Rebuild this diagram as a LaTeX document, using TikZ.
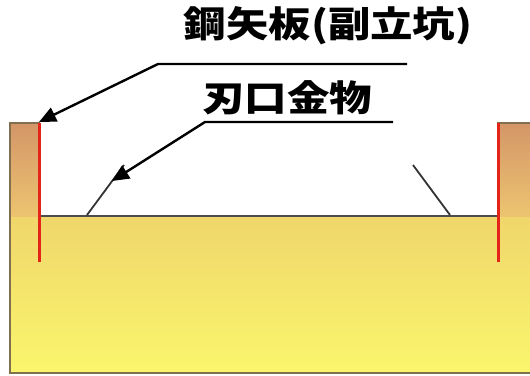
\documentclass[tikz,border=0pt]{standalone}
\usepackage{fontspec}
\newfontfamily\jp{Noto Sans CJK JP}
\usetikzlibrary{arrows.meta}
\definecolor{wallTop}{RGB}{212,150,104}
\definecolor{wallBot}{RGB}{236,196,112}
\definecolor{soilTop}{RGB}{240,214,108}
\definecolor{soilBot}{RGB}{250,246,108}
\definecolor{pileRed}{RGB}{228,36,24}
\definecolor{edgeGray}{RGB}{128,112,80}
\begin{document}
\begin{tikzpicture}[x=1pt,y=-1pt,
  outline/.style={draw=edgeGray, line width=1.2pt},
  groundline/.style={draw=black!70, line width=1.4pt},
  pile/.style={draw=pileRed, line width=3pt},
  blade/.style={draw=black!80, line width=1.8pt},
  leader/.style={draw=black, line width=2.4pt, -{Triangle[length=17pt,width=15pt]}},
  tag/.style={font=\jp\bfseries\fontsize{36}{36}\selectfont, inner sep=0pt}]
\useasboundingbox (0,0) rectangle (530,375);

% soil body and the two wall sections above ground
\shade[top color=soilTop, bottom color=soilBot] (10,216) rectangle (530,373);
\shade[top color=wallTop, bottom color=wallBot] (10,123) rectangle (39,216);
\shade[top color=wallTop, bottom color=wallBot] (498,123) rectangle (530,216);
\draw[outline] (530,123) -- (498,123) -- (498,216) (39,216) -- (39,123) -- (10,123) -- (10,373) -- (530,373);
\draw[groundline] (39,216) -- (498,216);

% cutting-edge fittings
\coordinate (bladeLb) at (87,215);
\coordinate (bladeLt) at (124,165);
\coordinate (bladeRb) at (450,215);
\coordinate (bladeRt) at (413,165);
\draw[blade] (bladeLb) -- (bladeLt);
\draw[blade] (bladeRb) -- (bladeRt);

% steel sheet piles
\coordinate (pileLt) at (39,123);
\coordinate (pileLb) at (39,262);
\coordinate (pileRt) at (498,123);
\coordinate (pileRb) at (498,262);
\draw[pile] (pileLt) -- (pileLb);
\draw[pile] (pileRt) -- (pileRb);

% labels
\node[tag] (plate) at (328,26) {\scalebox{1.18}[1]{鋼矢板(副立坑)}};
\node[tag] (edge) at (287,98) {\scalebox{1.18}[1]{刃口金物}};

% leaders
\coordinate (plateR) at (407,64);
\coordinate (plateL) at (158,64);
\coordinate (edgeR) at (393,122);
\coordinate (edgeL) at (205,122);
\coordinate (pileTip) at (39,122);
\coordinate (bladeTip) at (112,181);
\draw[leader] (plateR) -- (plateL) -- (pileTip);
\draw[leader] (edgeR) -- (edgeL) -- (bladeTip);
\end{tikzpicture}
\end{document}
